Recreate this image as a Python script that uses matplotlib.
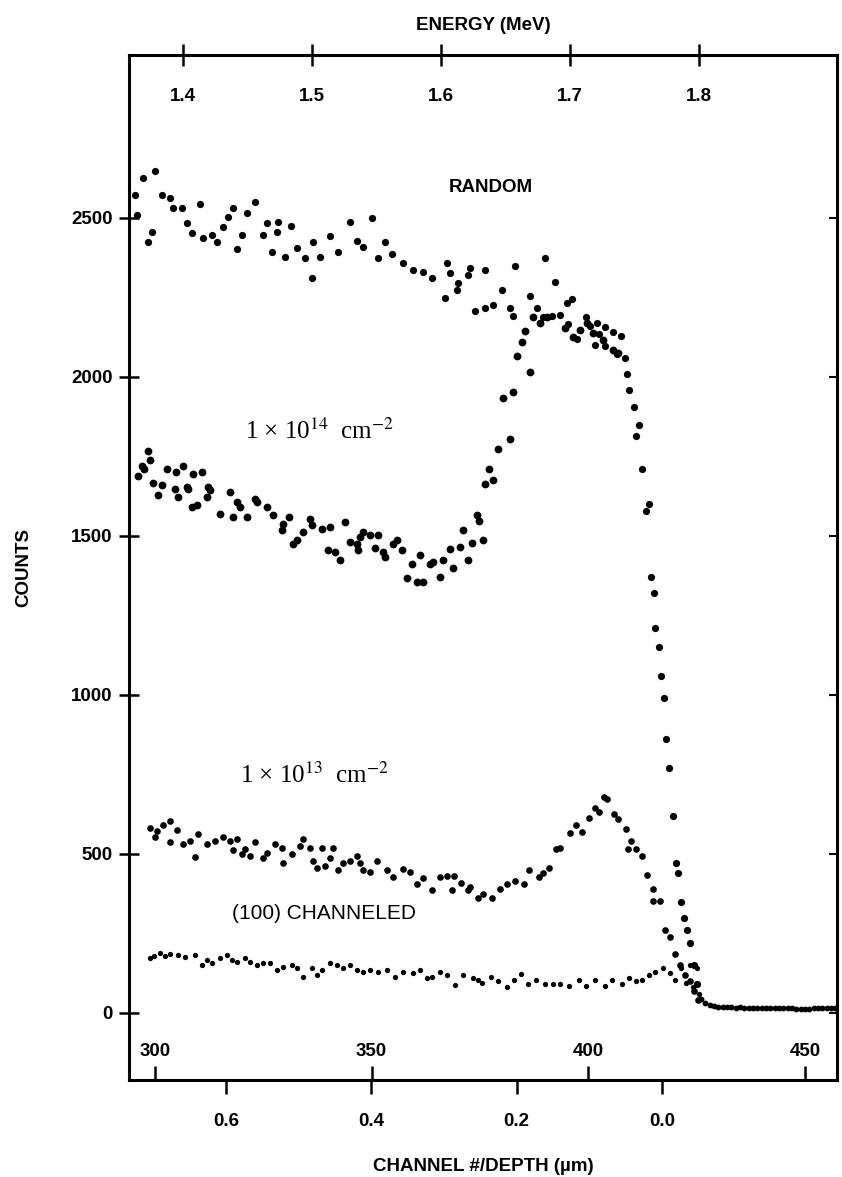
import numpy as np
import matplotlib
matplotlib.use("Agg")
import matplotlib.pyplot as plt

plt.rcParams['font.family'] = ['Liberation Sans', 'DejaVu Sans']
plt.rcParams['mathtext.fontset'] = 'stix'

# ---- data (channel, counts) ----
random_ch = [295.4, 295.8, 297.2, 298.4, 299.3, 300.0, 301.6, 303.5, 304.2, 306.2, 307.4, 308.5,
             310.4, 311.1, 313.1, 314.4, 315.7, 316.8, 318.0, 319.0, 320.0, 321.2, 323.0, 324.9,
             325.8, 327.0, 328.2, 328.5, 330.0, 331.4, 332.7, 334.6, 336.2, 336.5, 338.0, 340.4,
             342.2, 345.0, 346.6, 348.0, 350.0, 351.5, 353.0, 354.7, 357.2, 359.5, 361.8, 364.0,
             366.9, 367.4, 368.0, 369.7, 369.9, 372.2, 372.7, 373.8, 376.2, 376.2, 378.0, 380.0,
             381.9, 382.6, 383.0, 386.5, 388.2, 389.5, 390.0, 391.6, 392.3, 393.5, 395.0, 395.3,
             396.2, 397.4, 399.5, 400.4, 401.5, 402.0, 402.5, 403.9, 403.9, 405.7, 406.6,
             407.5, 408.5, 409.0, 409.5, 410.5, 411.0, 411.8, 412.4, 413.3, 414.0, 414.4, 415.2,
             415.5, 416.3, 416.7, 417.4, 418.0, 418.6, 419.6, 420.3, 420.8, 421.5, 422.0, 422.8,
             423.6, 424.3, 425.0]
random_counts = [2573, 2509, 2627, 2424, 2456, 2649, 2573, 2563, 2532, 2532, 2484, 2452,
                 2544, 2437, 2446, 2424, 2471, 2503, 2532, 2402, 2446, 2516, 2551, 2446,
                 2484, 2392, 2456, 2487, 2376, 2475, 2405, 2373, 2310, 2424, 2376, 2443,
                 2392, 2487, 2427, 2408, 2500, 2373, 2424, 2386, 2358, 2335, 2329, 2310,
                 2247, 2358, 2328, 2272, 2297, 2320, 2342, 2207, 2335, 2218, 2225, 2272,
                 2218, 2193, 2348, 2256, 2218, 2187, 2373, 2193, 2300, 2196, 2234, 2168,
                 2244, 2118, 2187, 2159, 2100, 2171, 2134, 2156, 2097, 2140, 2071,
                 2130, 2060, 2010, 1960, 1905, 1815, 1850, 1710, 1580, 1600, 1370, 1320,
                 1210, 1150, 1060, 990, 860, 770, 620, 470, 440, 350, 300, 260,
                 220, 150, 90]

tail_ch = [426, 427, 428, 429, 430, 431, 432, 433, 434, 435, 436, 437, 438, 439, 440, 441,
           442, 443, 444, 445, 446, 447, 448, 449, 450, 451, 452, 453, 454, 455, 456, 457]
tail_counts = [45, 30, 24, 21, 20, 19, 18, 18, 17, 18, 17, 17, 16, 17, 16, 16,
               15, 16, 15, 15, 14, 14, 13, 12, 12, 13, 14, 15, 16, 16, 17, 17]

dose14_ch = [296.2, 297.0, 297.5, 298.4, 299.0, 299.5, 300.7, 301.6, 302.8, 304.6, 305.0, 305.3,
             306.5, 307.4, 307.6, 308.5, 308.8, 309.7, 311.0, 312.0, 312.2, 312.7, 315.0, 317.3,
             318.0, 318.9, 319.6, 321.2, 323.0, 323.5, 325.8, 327.2, 329.3, 329.5, 331.0, 331.9,
             332.7, 334.2, 335.8, 336.2, 338.5, 340.0, 340.4, 341.5, 342.7, 343.8, 345.0, 346.6,
             346.9, 347.3, 348.0, 349.6, 350.8, 351.5, 352.6, 353.0, 355.0, 355.8, 357.0, 358.2,
             359.3, 360.5, 361.2, 361.9, 363.5, 364.2, 365.8, 366.5, 368.0, 368.8, 370.4, 371.0,
             372.2, 373.2, 374.3, 374.8, 375.7, 376.2, 377.1, 378.0, 379.2, 380.3, 381.9, 382.6,
             383.5, 384.7, 385.4, 386.5, 387.2, 388.8, 390.4, 394.6, 396.5, 398.1, 399.7, 401.1,
             403.4, 405.7, 406.9]
dose14_counts = [1690, 1720, 1710, 1766, 1740, 1665, 1630, 1661, 1712, 1648, 1700, 1623,
                 1720, 1655, 1648, 1592, 1695, 1598, 1700, 1623, 1655, 1645, 1570, 1639,
                 1560, 1608, 1592, 1560, 1617, 1608, 1592, 1567, 1520, 1538, 1560, 1476,
                 1487, 1513, 1554, 1535, 1523, 1457, 1529, 1450, 1424, 1545, 1482, 1475,
                 1457, 1498, 1513, 1504, 1463, 1504, 1449, 1435, 1476, 1487, 1457, 1367,
                 1413, 1354, 1441, 1354, 1413, 1418, 1370, 1425, 1459, 1400, 1466, 1519,
                 1425, 1478, 1566, 1548, 1488, 1664, 1711, 1677, 1774, 1933, 1805, 1952,
                 2065, 2109, 2146, 2015, 2188, 2169, 2188, 2153, 2125, 2147, 2169, 2137,
                 2115, 2084, 2075]

dose13_ch = [298.8, 300.0, 300.4, 302.0, 303.5, 303.5, 305.1, 306.5, 308.1, 309.2, 309.9, 312.0,
             313.8, 315.7, 317.3, 318.0, 318.9, 320.1, 320.8, 321.9, 323.0, 324.9, 325.8, 327.7,
             329.3, 329.5, 331.6, 333.5, 334.2, 335.8, 336.5, 337.4, 338.5, 339.2, 340.4, 341.1,
             342.2, 343.4, 345.0, 346.6, 347.3, 348.0, 349.6, 351.2, 353.5, 354.9, 357.2, 358.8,
             360.5, 361.9, 363.9, 365.8, 367.4, 368.6, 369.0, 370.6, 372.2, 372.7, 374.5, 375.7,
             377.7, 379.6, 381.2, 383.2, 385.2, 386.3, 388.7, 389.5, 391.0, 392.6, 393.4, 395.8,
             397.3, 398.5, 400.1, 401.6, 402.6, 403.6, 404.3, 406.0, 406.8, 408.7, 409.1, 409.9,
             411.1, 412.4, 413.5, 415.0, 415.0, 416.6, 417.8, 418.9, 420.1, 421.2, 422.3, 423.5,
             424.5, 425.3]
dose13_counts = [583, 552, 573, 590, 604, 536, 576, 532, 542, 489, 564, 532,
                 542, 552, 542, 511, 548, 501, 517, 495, 536, 486, 504, 532,
                 520, 470, 501, 526, 548, 520, 479, 457, 520, 463, 486, 520,
                 448, 473, 479, 495, 473, 448, 442, 479, 448, 426, 454, 442,
                 407, 423, 385, 426, 430, 385, 430, 410, 385, 395, 360, 375,
                 360, 390, 405, 415, 405, 450, 428, 440, 455, 515, 520, 565,
                 590, 570, 612, 645, 632, 680, 672, 625, 610, 578, 515, 540,
                 515, 492, 435, 390, 352, 352, 262, 240, 186, 150, 120, 100,
                 70, 40]

chan_ch = [298.8, 299.8, 301.2, 302.3, 303.5, 305.3, 307.0, 309.2, 310.8, 312.0, 313.1, 315.0,
           316.6, 317.8, 318.9, 320.8, 321.9, 323.5, 324.9, 326.5, 328.2, 329.5, 331.6, 332.8,
           334.2, 336.2, 337.4, 338.5, 340.4, 342.0, 343.4, 345.0, 346.6, 348.0, 349.6, 351.5,
           353.5, 355.4, 357.2, 359.5, 361.2, 362.8, 363.9, 365.8, 367.4, 369.2, 371.1, 373.4,
           374.5, 375.5, 377.5, 379.1, 381.2, 382.8, 384.5, 386.1, 388.0, 390.0, 391.9, 393.5,
           395.5, 397.8, 399.5, 401.5, 403.9, 405.5, 407.8, 409.5, 411.0, 412.5, 414.0, 415.5,
           417.2, 418.8, 420.0, 421.5, 422.6, 423.6, 424.2, 425.0, 425.6]
chan_counts = [172, 178, 188, 180, 185, 182, 176, 182, 150, 166, 157, 172,
               182, 166, 160, 172, 160, 150, 157, 157, 135, 144, 150, 141,
               113, 141, 119, 135, 157, 150, 141, 150, 135, 128, 135, 128,
               135, 113, 128, 125, 135, 110, 113, 128, 119, 88, 119, 110,
               103, 94, 112, 100, 80, 104, 122, 90, 102, 92, 90, 90,
               85, 105, 86, 102, 86, 102, 90, 110, 100, 105, 120, 128,
               140, 125, 105, 140, 95, 150, 80, 140, 60]

energy_ticks = [1.4, 1.5, 1.6, 1.7, 1.8]
depth_ticks = [0.6, 0.4, 0.2, 0.0]
channel_ticks = [300, 350, 400, 450]
count_ticks = [0, 500, 1000, 1500, 2000, 2500]


def ch2e(c):
    return 1.4 + (np.asarray(c) - 306.5) / 297.5


def e2ch(e):
    return 306.5 + (np.asarray(e) - 1.4) * 297.5


def ch2d(c):
    return (417.0 - np.asarray(c)) / 167.7


def d2ch(d):
    return 417.0 - np.asarray(d) * 167.7


fig = plt.figure(figsize=(8.42, 11.77), dpi=100)
ax = fig.add_axes([0.153, 0.0824, 0.841, 0.871])

dot = dict(linestyle='none', marker='o', color='black', markeredgewidth=0)
ax.plot(random_ch, random_counts, markersize=5.2, **dot)
ax.plot(tail_ch, tail_counts, markersize=4.2, **dot)
ax.plot(dose14_ch, dose14_counts, markersize=5.6, **dot)
ax.plot(dose13_ch, dose13_counts, markersize=4.8, **dot)
ax.plot(chan_ch, chan_counts, markersize=3.8, **dot)

ax.set_xlim(294.0, 457.4)
ax.set_ylim(-211, 3013)

for s in ax.spines.values():
    s.set_linewidth(2.2)

lab = dict(fontsize=13.5, fontweight='bold')

# left counts axis
ax.set_yticks(count_ticks)
ax.set_yticklabels([str(v) for v in count_ticks], **lab)
ax.tick_params(axis='y', direction='inout', length=15, width=1.8, pad=4)
ax.set_ylabel('COUNTS', labelpad=28, **lab)

# right inward ticks
ax_r = ax.secondary_yaxis('right')
ax_r.set_yticks(count_ticks)
ax_r.tick_params(direction='in', length=6, width=1.5, labelright=False)

# channel axis: ticks pointing in, labels inside
ax.set_xticks(channel_ticks)
ax.set_xticklabels([str(v) for v in channel_ticks], **lab)
ax.tick_params(axis='x', direction='in', length=10, width=1.8, pad=-27)

# depth axis below
ax_d = ax.secondary_xaxis('bottom', functions=(ch2d, d2ch))
ax_d.set_xticks(depth_ticks)
ax_d.set_xticklabels(['%.1f' % v for v in depth_ticks], **lab)
ax_d.tick_params(direction='out', length=10, width=1.8, pad=14)
ax_d.spines['bottom'].set_visible(False)
ax_d.set_xlabel('CHANNEL #/DEPTH (\u00b5m)', labelpad=20, **lab)

# energy axis on top, labels inside
ax_e = ax.secondary_xaxis('top', functions=(ch2e, e2ch))
ax_e.set_xticks(energy_ticks)
ax_e.set_xticklabels(['%.1f' % v for v in energy_ticks], **lab)
ax_e.tick_params(direction='inout', length=16, width=1.8, pad=-44)
ax_e.spines['top'].set_visible(False)
ax_e.set_xlabel('ENERGY (MeV)', labelpad=10, **lab)

# curve labels
ax.text(377.5, 2595, 'RANDOM', ha='center', va='center', **lab)
serif = dict(fontsize=18, family=['Liberation Serif', 'DejaVu Serif'], va='center', ha='left')
ax.text(320.8, 1830, '1 \u00d7 10$^{14}$  cm$^{-2}$', **serif)
ax.text(319.6, 746, '1 \u00d7 10$^{13}$  cm$^{-2}$', **serif)
ax.text(317.8, 313, '(100) CHANNELED', ha='left', va='center',
        fontsize=15, fontweight='normal')

fig.savefig('out.png', dpi=100)
